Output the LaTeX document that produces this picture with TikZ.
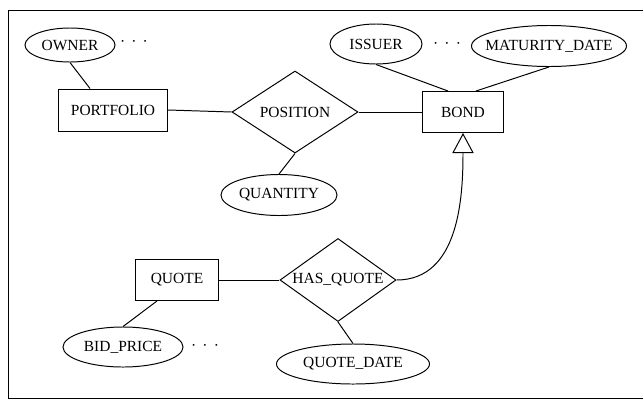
\documentclass[tikz,border=0pt]{standalone}
\usepackage{fontspec}
\setmainfont{Liberation Serif}
\usetikzlibrary{arrows.meta,shapes.geometric}
\newcommand{\lbl}[1]{\makebox[0pt]{#1}}

\begin{document}
\begin{tikzpicture}[x=0.025cm, y=-0.025cm, line width=0.7pt,
  font=\fontsize{11}{13}\selectfont,
  ent/.style={rectangle, draw, inner sep=0pt},
  rel/.style={diamond, draw, inner sep=0pt},
  att/.style={ellipse, draw, inner sep=0pt},
  dts/.style={inner sep=0pt}]
\useasboundingbox (0,0) rectangle (643,402);
% frame
\draw (643,10) -- (8,10) -- (8,398) -- (643,398);
% entities
\node[ent, minimum width=2.725cm, minimum height=1.05cm] (portfolio) at (113,110) {PORTFOLIO};
\node[ent, minimum width=2.025cm, minimum height=1.025cm] (bond) at (463,112) {BOND};
\node[ent, minimum width=2.075cm, minimum height=1.025cm] (quote) at (177,280) {QUOTE};
% relationships
\node[rel, minimum width=3.15cm, minimum height=2.05cm] (position) at (295,112) {\lbl{POSITION}};
\node[rel, minimum width=2.9cm, minimum height=2.075cm] (hasquote) at (338,280) {\lbl{HAS\_QUOTE}};
% attributes
\node[att, minimum width=2.25cm, minimum height=0.85cm] (owner) at (70,45) {\lbl{OWNER}};
\node[att, minimum width=2.3cm, minimum height=1.0cm] (issuer) at (376,44) {\lbl{ISSUER}};
\node[att, minimum width=3.875cm, minimum height=1.025cm] (maturity) at (549,46) {\lbl{MATURITY\_DATE}};
\node[att, minimum width=2.9cm, minimum height=1.025cm] (quantity) at (279,195) {\lbl{QUANTITY}};
\node[att, minimum width=3.0cm, minimum height=1.0cm] (bidprice) at (123,347) {\lbl{BID\_PRICE}};
\node[att, minimum width=3.825cm, minimum height=1.0cm] (quotedate) at (353,364) {\lbl{QUOTE\_DATE}};
\node[dts] (dotsa) at (134,43) {\textperiodcentered\hspace{0.4em}\textperiodcentered\hspace{0.4em}\textperiodcentered};
\node[dts] (dotsb) at (447,45) {\textperiodcentered\hspace{0.4em}\textperiodcentered\hspace{0.4em}\textperiodcentered};
\node[dts] (dotsc) at (205,347) {\textperiodcentered\hspace{0.4em}\textperiodcentered\hspace{0.4em}\textperiodcentered};
% connectors
\draw (owner.south) -- ([xshift=0.8cm]portfolio.north west);
\draw (portfolio.east) -- (position.west);
\draw (position.east) -- (bond.west);
\draw (position.south) -- (quantity.north);
\draw (issuer.south) -- ([xshift=0.65cm]bond.north west);
\draw (maturity.south) -- ([xshift=-0.7cm]bond.north east);
\draw (quote.east) -- (hasquote.west);
\draw ([xshift=0.55cm]quote.south west) -- (bidprice.north);
\draw (hasquote.south) -- (quotedate.north);
\draw[-{Triangle[open, length=0.5cm, width=0.53cm]}] (hasquote.east) to[out=0, in=-90] (bond.south);
\end{tikzpicture}
\end{document}
